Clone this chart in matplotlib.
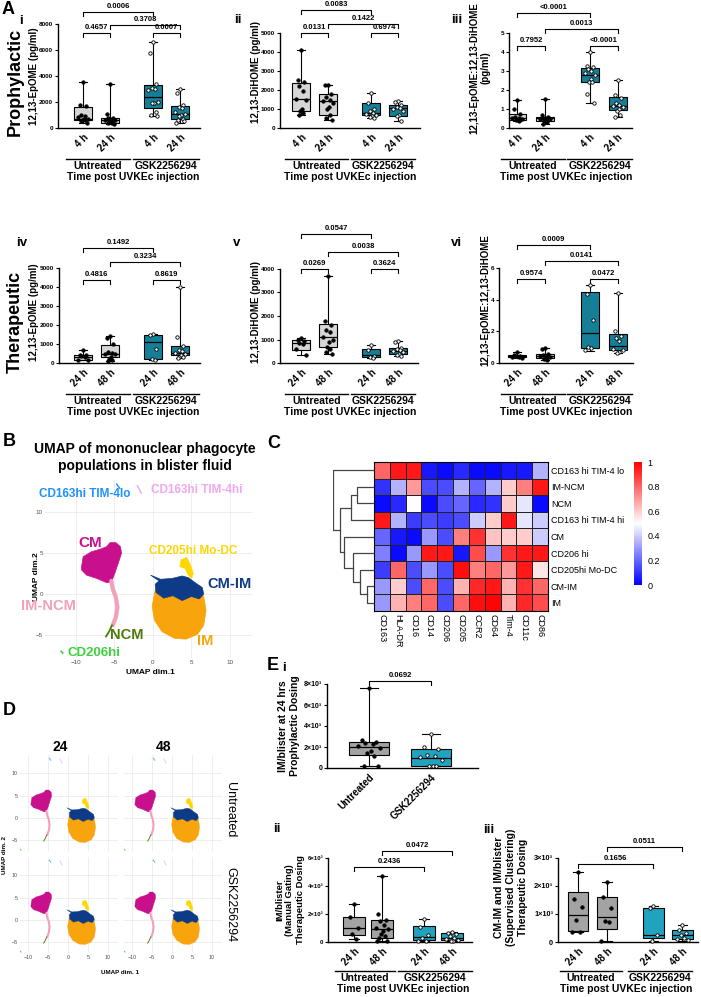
import numpy as np
import matplotlib
matplotlib.use("Agg")
import matplotlib.pyplot as plt
from matplotlib.colors import LinearSegmentedColormap
from matplotlib.lines import Line2D

W, H = 701, 997
plt.rcParams['font.family'] = ['Liberation Sans', 'DejaVu Sans']

# ---------------- data ----------------
times_pro = ['4 h', '24 h', '4 h', '24 h']
times_ther = ['24 h', '48 h', '24 h', '48 h']

# box stats: (min, q1, median, q3, max)
epome_pro_stats = [(400, 600, 700, 1600, 3500), (300, 400, 600, 800, 3400),
                   (900, 1500, 2400, 3300, 6600), (400, 700, 1100, 1700, 3000)]
epome_pro_pts = [[3500, 1800, 1700, 1000, 950, 850, 700, 700, 650, 600, 500, 400],
                 [3400, 1100, 800, 750, 700, 650, 600, 500, 450, 400, 350, 300],
                 [6600, 5800, 3400, 3100, 3000, 2900, 2000, 1900, 1900, 1200, 1000, 900],
                 [3000, 2700, 1800, 1600, 1500, 1200, 1100, 1000, 900, 700, 600, 500, 400]]

dihome_pro_stats = [(700, 900, 1550, 2380, 4100), (400, 700, 1400, 1780, 2250),
                    (550, 700, 800, 1300, 1850), (350, 650, 1050, 1200, 1400)]
dihome_pro_pts = [[4100, 2500, 2400, 2200, 1950, 1500, 1450, 1000, 900, 800, 700],
                  [2250, 2250, 1800, 1650, 1450, 1400, 1300, 1100, 1000, 700, 500, 400],
                  [1850, 1300, 1000, 900, 800, 750, 700, 650, 600, 550],
                  [1400, 1350, 1200, 1100, 1050, 1000, 900, 700, 650, 350]]

ratio_pro_stats = [(0.35, 0.42, 0.55, 0.75, 1.45), (0.2, 0.35, 0.5, 0.6, 1.55),
                   (1.3, 2.4, 2.8, 3.15, 4.0), (0.6, 0.95, 1.15, 1.65, 2.55)]
ratio_pro_pts = [[1.45, 1.0, 0.75, 0.6, 0.55, 0.5, 0.45, 0.42, 0.4, 0.35],
                 [1.55, 0.7, 0.6, 0.55, 0.5, 0.48, 0.45, 0.4, 0.35, 0.3, 0.2],
                 [4.0, 3.25, 3.2, 3.1, 3.0, 2.9, 2.8, 2.6, 2.4, 2.4, 1.8, 1.3],
                 [2.55, 1.75, 1.6, 1.3, 1.2, 1.15, 1.1, 1.0, 0.9, 0.7, 0.6]]

epome_ther_stats = [(150, 170, 300, 430, 700), (100, 300, 500, 950, 1400),
                    (150, 200, 1100, 1500, 1550), (250, 400, 550, 900, 4000)]
epome_ther_pts = [[700, 420, 400, 350, 300, 180, 150],
                  [1400, 1300, 1000, 600, 550, 500, 450, 300, 200, 150, 100],
                  [1550, 1500, 750, 200, 150],
                  [4000, 1350, 900, 700, 650, 550, 500, 400, 300, 300, 250]]

dihome_ther_stats = [(350, 560, 850, 980, 1080), (400, 700, 1100, 1650, 3700),
                     (200, 250, 350, 600, 780), (300, 380, 500, 650, 920)]
dihome_ther_pts = [[1080, 1000, 950, 850, 800, 600, 350],
                   [3700, 1800, 1600, 1400, 1300, 1100, 1000, 900, 700, 600, 450, 400],
                   [780, 550, 300, 250, 200],
                   [920, 900, 650, 600, 550, 500, 450, 400, 350, 300]]

ratio_ther_stats = [(0.3, 0.35, 0.42, 0.48, 0.72), (0.2, 0.3, 0.42, 0.55, 0.95),
                    (0.75, 0.95, 1.9, 4.5, 4.95), (0.65, 0.85, 1.1, 1.85, 4.4)]
ratio_ther_pts = [[0.72, 0.5, 0.45, 0.42, 0.38, 0.35, 0.3],
                  [0.95, 0.9, 0.6, 0.5, 0.45, 0.42, 0.38, 0.3, 0.25, 0.2],
                  [4.95, 4.35, 2.7, 1.0, 0.95, 0.8],
                  [4.4, 2.05, 1.7, 1.6, 1.4, 0.9, 0.85, 0.7, 0.65]]

im_pro_stats = [(150, 1200, 2000, 2450, 7600), (150, 200, 950, 1850, 3200)]
im_pro_pts = [[7600, 2700, 2500, 2400, 2300, 2100, 1900, 1600, 1400, 1100, 200, 150],
              [3200, 2000, 1800, 1200, 1100, 1000, 800, 200, 150, 150]]

im_ther_stats = [(250, 500, 1000, 1800, 2700), (50, 300, 900, 1600, 4700),
                 (50, 140, 360, 1140, 1640), (50, 140, 300, 640, 710)]
im_ther_pts = [[2700, 1800, 1000, 600, 250],
               [4700, 2000, 1600, 1500, 1200, 1000, 900, 800, 600, 400, 300, 100, 50],
               [1640, 1100, 500, 300, 100, 50],
               [710, 650, 600, 400, 300, 200, 150, 100, 50]]

cmim_ther_stats = [(360, 380, 950, 1800, 2500), (30, 480, 900, 1600, 2150),
                   (50, 150, 250, 1230, 1280), (50, 110, 250, 420, 620)]
cmim_ther_pts = [[2500, 1550, 1250, 800, 370, 360],
                 [2150, 1600, 1200, 750, 700, 30],
                 [1280, 1230, 250, 50],
                 [620, 420, 330, 250, 150, 100, 60]]

# heatmap
heat_rows = ['CD163 hi TIM-4 lo', 'IM-NCM', 'NCM', 'CD163 hi TIM-4 hi', 'CM', 'CD206 hi',
             'CD205hi Mo-DC', 'CM-IM', 'IM']
heat_cols = ['CD163', 'HLA-DR', 'CD16', 'CD14', 'CD206', 'CD205', 'CCR2', 'CD64', 'Tim-4', 'CD11c', 'CD86']
heat_vals = [
    [0.80, 0.95, 0.95, 0.05, 0.02, 0.08, 0.02, 0.02, 0.05, 0.05, 0.35],
    [0.10, 0.35, 0.70, 0.15, 0.15, 0.35, 0.20, 0.35, 0.60, 0.75, 0.95],
    [0.02, 0.08, 0.50, 0.02, 0.15, 0.20, 0.08, 0.10, 0.60, 0.45, 0.02],
    [0.95, 0.35, 0.12, 0.15, 0.12, 0.15, 0.40, 0.60, 0.95, 0.45, 0.40],
    [0.20, 0.05, 0.02, 0.30, 0.15, 0.75, 0.90, 0.62, 0.60, 0.60, 0.40],
    [0.25, 0.02, 0.30, 0.95, 0.95, 0.05, 0.85, 0.30, 0.90, 0.95, 0.95],
    [0.12, 0.80, 0.15, 0.30, 0.15, 0.97, 0.75, 0.80, 0.70, 0.95, 0.55],
    [0.30, 0.60, 0.15, 0.80, 0.15, 0.65, 0.92, 0.95, 0.65, 0.90, 0.80],
    [0.30, 0.65, 0.75, 0.80, 0.15, 0.80, 0.97, 0.99, 0.65, 0.92, 0.85]]
# row dendrogram merges (node a, node b, height); new nodes numbered from 9
dendro_merges = [(1, 2, 0.42), (9, 3, 0.56), (7, 8, 0.18), (6, 11, 0.33),
                 (5, 12, 0.52), (4, 13, 0.74), (10, 14, 0.82), (0, 15, 0.99)]

# UMAP cluster outlines (UMAP dim.1, UMAP dim.2)
im_u = [0.3, -0.1, 0.2, 1.2, 2.8, 4.3, 5.8, 6.6, 6.9, 6.6, 5.8, 3.5, 1.5]
im_v = [0.5, -1.5, -3.2, -4.6, -5.4, -5.5, -4.9, -3.8, -2.0, -0.3, 0.8, 1.2, 1.2]
cmim_u = [-0.3, 1.0, 2.5, 3.8, 4.6, 5.6, 6.4, 6.6, 6.0, 5.0, 3.8, 2.6, 1.4, 0.4, 0.3, 0.8]
cmim_v = [2.3, 1.8, 1.9, 2.2, 2.0, 1.3, 0.8, 0.0, -0.6, -0.3, -0.8, -0.2, -0.5, 0.2, 1.2, 1.6]
modc_u = [3.64, 4.37, 4.8, 5.24, 5.02, 4.6, 4.16, 3.5]
modc_v = [4.15, 4.47, 3.74, 2.52, 1.91, 2.3, 3.13, 3.33]
cm_u = [-9.26, -9.05, -7.96, -6.88, -6.0, -5.58, -4.8, -4.2, -4.07, -4.5, -4.94, -5.37, -6.0, -7.31, -8.6, -9.26]
cm_v = [3.33, 4.55, 5.16, 5.45, 5.77, 6.26, 6.26, 5.77, 4.96, 3.74, 2.52, 1.5, 1.38, 1.91, 2.3, 2.93]
imncm_u = [-5.4, -5.2, -4.8, -4.6, -4.8, -5.2]
imncm_v = [1.6, 0.6, -0.4, -1.6, -2.8, -3.8]
ncm_u = [-5.3, -5.7, -6.1]
ncm_v = [-3.8, -4.6, -5.2]
tim4lo_u, tim4lo_v = [-4.7, -4.3], [13.4, 12.9]
tim4hi_u, tim4hi_v = [-2.0, -1.5], [13.2, 12.3]
cd206_u, cd206_v = [-11.9, -11.7], [-7.0, -7.2]

umap_colors = {'IM': '#f7a40d', 'CM-IM': '#0d3b87', 'Mo-DC': '#ffd700', 'CM': '#c8108c',
               'IM-NCM': '#f4a0b8', 'NCM': '#4d7a0b', 'TIM4lo': '#1e90ff',
               'TIM4hi': '#f0a6f0', 'CD206hi': '#3dd13d'}

# ---------------- figure ----------------
fig = plt.figure(figsize=(W / 100, H / 100), dpi=100)


def add_ax(x0, y0, x1, y1):
    return fig.add_axes([x0 / W, 1 - y1 / H, (x1 - x0) / W, (y1 - y0) / H])


def ftext(x, y, s, **kw):
    kw.setdefault('ha', 'center')
    kw.setdefault('va', 'center')
    fig.text(x / W, 1 - y / H, s, **kw)


def fline(x0, x1, y, lw=1.0):
    fig.add_artist(Line2D([x0 / W, x1 / W], [1 - y / H, 1 - y / H], color='black', lw=lw))


spread = [0, -0.6, 0.6, -0.3, 0.3, -0.9, 0.9, 0.15, -0.15, 0.45, -0.45, 0.75, -0.75]


def box_panel(bbox, p1, step, pos, width, stats, pts, fills, hollow, ymax, yticks,
              yticklabels, xlabels, brackets, yfs=4.6, xfs=7):
    x0, y0, x1, y1 = bbox
    ax = add_ax(x0, y0, x1, y1)
    bstats = [dict(whislo=s[0], q1=s[1], med=s[2], q3=s[3], whishi=s[4], fliers=[]) for s in stats]
    art = ax.bxp(bstats, positions=pos, widths=width, capwidths=width * 0.45, patch_artist=True,
                 showfliers=False,
                 boxprops=dict(edgecolor='black', linewidth=0.8),
                 whiskerprops=dict(color='black', linewidth=0.8),
                 capprops=dict(color='black', linewidth=0.8),
                 medianprops=dict(color='black', linewidth=0.9))
    for patch, c in zip(art['boxes'], fills):
        patch.set_facecolor(c)
    for p, vals, h in zip(pos, pts, hollow):
        offs = np.array([spread[k % len(spread)] for k in range(len(vals))]) * width * 0.3
        ax.scatter(p + offs, vals, s=6, marker='o', facecolor='white' if h else 'black',
                   edgecolor='black', linewidth=0.6, zorder=4, clip_on=False)
    ax.set_xlim(1 + (x0 - p1) / step, 1 + (x1 - p1) / step)
    ax.set_ylim(0, ymax)
    ax.set_yticks(yticks)
    ax.set_yticklabels(yticklabels, fontsize=yfs, fontweight='bold')
    ax.set_xticks(pos)
    ax.set_xticklabels(xlabels, rotation=45, ha='right', rotation_mode='anchor',
                       fontsize=xfs, fontweight='bold')
    ax.tick_params(axis='y', length=2.5, width=0.8, pad=1)
    ax.tick_params(axis='x', length=0, pad=3)
    for sp in ['top', 'right']:
        ax.spines[sp].set_visible(False)
    for sp in ['left', 'bottom']:
        ax.spines[sp].set_linewidth(1.0)
    hpx = y1 - y0
    drop = 4.0 / hpx
    tr = ax.get_xaxis_transform()
    for i, j, yf, lab in brackets:
        ax.plot([pos[i], pos[i], pos[j], pos[j]], [yf - drop, yf, yf, yf - drop], color='black',
                lw=0.8, transform=tr, clip_on=False)
        ax.text((pos[i] + pos[j]) / 2, yf + 2.0 / hpx, lab, transform=tr, ha='center',
                va='bottom', fontsize=5.5, fontweight='bold')
    return ax


def group_labels(u_span, g_span, yline, time_x):
    fline(u_span[0], u_span[1], yline)
    fline(g_span[0], g_span[1], yline)
    ftext(sum(u_span) / 2, yline + 7, 'Untreated', fontsize=7.5, fontweight='bold')
    ftext(sum(g_span) / 2, yline + 7, 'GSK2256294', fontsize=7.5, fontweight='bold')
    ftext(time_x, yline + 18, 'Time post UVKEc injection', fontsize=7.5, fontweight='bold')


grey_a, teal_a = '#d6d6d6', '#167f98'
grey_e, teal_e = '#a3a3a3', '#21a3c0'
fills4 = [grey_a, grey_a, teal_a, teal_a]
hollow4 = [False, False, True, True]
pos4 = [1, 2, 3.6, 4.6]

# ---------------- panel A ----------------
ftext(2, 10, 'A', fontsize=13, fontweight='bold', ha='left')
ftext(15, 82, 'Prophylactic', fontsize=13, fontweight='bold', rotation=90)
ftext(15, 322, 'Therapeutic', fontsize=13, fontweight='bold', rotation=90)
for x, y, s in [(21, 21, 'i'), (238, 20, 'ii'), (457, 20, 'iii'),
                (22, 243, 'iv'), (237, 243, 'v'), (457, 243, 'vi')]:
    ftext(x, y, s, fontsize=9.5, fontweight='bold')

box_panel((58, 24, 200, 128), 83, 27, pos4, 0.67, epome_pro_stats, epome_pro_pts, fills4, hollow4,
          8000, [0, 2000, 4000, 6000, 8000], ['0', '2000', '4000', '6000', '8000'], times_pro,
          [(0, 1, 0.913, '0.4657'), (2, 3, 0.913, '0.0007'), (1, 3, 0.99, '0.3708'),
           (0, 2, 1.115, '0.0006')])
ftext(34, 76, '12,13-EpOME (pg/ml)', fontsize=7, fontweight='bold', rotation=90)
group_labels((66, 130), (133, 199), 159, 133)

box_panel((280, 33, 420, 128), 301, 27, pos4, 0.67, dihome_pro_stats, dihome_pro_pts, fills4,
          hollow4, 5000, [0, 1000, 2000, 3000, 4000, 5000],
          ['0', '1000', '2000', '3000', '4000', '5000'], times_pro,
          [(0, 1, 1.0, '0.0131'), (2, 3, 1.0, '0.6974'), (1, 3, 1.095, '0.1422'),
           (0, 2, 1.242, '0.0083')])
ftext(256, 72, '12,13-DiHOME (pg/ml)', fontsize=7, fontweight='bold', rotation=90)
group_labels((285, 348), (351, 415), 159, 350)

box_panel((509, 33, 632, 128), 517, 28, pos4, 0.64, ratio_pro_stats, ratio_pro_pts, fills4,
          hollow4, 5, [0, 1, 2, 3, 4, 5], ['0', '1', '2', '3', '4', '5'], times_pro,
          [(0, 1, 0.863, '0.7952'), (2, 3, 0.863, '<0.0001'), (1, 3, 1.042, '0.0013'),
           (0, 2, 1.21, '<0.0001')])
ftext(480, 68, '12,13-EpOME:12,13-DiHOME\n(pg/ml)', fontsize=7, fontweight='bold', rotation=90,
      linespacing=1.2)
group_labels((501, 565), (567, 632), 159, 566)

box_panel((59, 268, 200, 363), 83, 27, pos4, 0.67, epome_ther_stats, epome_ther_pts, fills4,
          hollow4, 5000, [0, 1000, 2000, 3000, 4000, 5000],
          ['0', '1000', '2000', '3000', '4000', '5000'], times_ther,
          [(0, 1, 0.874, '0.4816'), (2, 3, 0.874, '0.8619'), (1, 3, 1.063, '0.3234'),
           (0, 2, 1.21, '0.1492')])
ftext(34, 312, '12,13-EpOME (pg/ml)', fontsize=7, fontweight='bold', rotation=90)
group_labels((66, 130), (133, 199), 394, 133)

box_panel((280, 269, 418, 363), 301, 27, pos4, 0.67, dihome_ther_stats, dihome_ther_pts, fills4,
          hollow4, 4000, [0, 1000, 2000, 3000, 4000], ['0', '1000', '2000', '3000', '4000'],
          times_ther,
          [(0, 1, 1.0, '0.0269'), (2, 3, 1.0, '0.3624'), (1, 3, 1.18, '0.0038'),
           (0, 2, 1.37, '0.0547')])
ftext(256, 312, '12,13-DiHOME (pg/ml)', fontsize=7, fontweight='bold', rotation=90)
group_labels((285, 348), (351, 415), 394, 350)

box_panel((499, 268, 633, 363), 517, 28, pos4, 0.64, ratio_ther_stats, ratio_ther_pts, fills4,
          hollow4, 6, [0, 2, 4, 6], ['0', '2', '4', '6'], times_ther,
          [(0, 1, 0.884, '0.9574'), (2, 3, 0.884, '0.0472'), (1, 3, 1.074, '0.0141'),
           (0, 2, 1.242, '0.0009')])
ftext(485, 300, '12,13-EpOME:12,13-DiHOME', fontsize=7, fontweight='bold', rotation=90)
group_labels((501, 565), (567, 632), 394, 566)


# ---------------- UMAP helpers ----------------
def draw_clusters(ax, k=1.0):
    c = umap_colors
    ax.fill(im_u, im_v, color=c['IM'], lw=0.5 * k)
    ax.fill(cmim_u, cmim_v, color=c['CM-IM'], lw=0.5 * k)
    ax.fill(modc_u, modc_v, color=c['Mo-DC'], lw=0.5 * k)
    ax.fill(cm_u, cm_v, color=c['CM'], lw=0.5 * k)
    ax.plot(imncm_u, imncm_v, color=c['IM-NCM'], lw=3.0 * k, solid_capstyle='round')
    ax.plot(ncm_u, ncm_v, color=c['NCM'], lw=1.3 * k, solid_capstyle='round')
    ax.plot(tim4lo_u, tim4lo_v, color=c['TIM4lo'], lw=1.0 * k)
    ax.plot(tim4hi_u, tim4hi_v, color=c['TIM4hi'], lw=1.0 * k)
    ax.plot(cd206_u, cd206_v, color=c['CD206hi'], lw=1.2 * k)


def umap_axes(ax, xl, yl, fs, show_x=True, show_y=True):
    ax.set_xlim(*xl)
    ax.set_ylim(*yl)
    ax.set_xticks([-10, -5, 0, 5, 10])
    ax.set_yticks([-5, 0, 5, 10])
    ax.grid(True, color='#ebebeb', lw=0.6)
    ax.set_axisbelow(True)
    for sp in ax.spines.values():
        sp.set_visible(False)
    ax.tick_params(length=0, labelsize=fs, labelcolor='#4d4d4d', pad=1.5,
                   labelbottom=show_x, labelleft=show_y)


# ---------------- panel B ----------------
ftext(3, 442, 'B', fontsize=13, fontweight='bold', ha='left')
ftext(145, 449, 'UMAP of mononuclear phagocyte', fontsize=10, fontweight='bold')
ftext(145, 466, 'populations in blister fluid', fontsize=10, fontweight='bold')
axb = add_ax(45, 480, 252, 658)
draw_clusters(axb, 1.0)
umap_axes(axb, (-14.0, 12.86), (-7.8, 13.9), 4.5)
ftext(36, 577, 'UMAP dim.2', fontsize=6, fontweight='bold', rotation=90)
ftext(150, 673, 'UMAP dim.1', fontsize=6, fontweight='bold')
for x, y, s, key, fs in [(85, 494, 'CD163hi TIM-4lo', 'TIM4lo', 8.5),
                         (197, 490, 'CD163hi TIM-4hi', 'TIM4hi', 8.5),
                         (90, 543, 'CM', 'CM', 11),
                         (193, 551, 'CD205hi Mo-DC', 'Mo-DC', 8.5),
                         (229, 584, 'CM-IM', 'CM-IM', 10.5),
                         (48, 606, 'IM-NCM', 'IM-NCM', 10.5),
                         (127, 635, 'NCM', 'NCM', 10.5),
                         (205, 641, 'IM', 'IM', 10.5),
                         (94, 653, 'CD206hi', 'CD206hi', 9.5)]:
    ftext(x, y, s, fontsize=fs, fontweight='bold', color=umap_colors[key])

# ---------------- panel C ----------------
ftext(267, 443, 'C', fontsize=13, fontweight='bold', ha='left')
axh = add_ax(374, 462, 548, 611)
cmap = LinearSegmentedColormap.from_list('bwr2', ['#0000ff', '#ffffff', '#ff0000'])
mesh = axh.pcolormesh(np.array(heat_vals), cmap=cmap, vmin=0, vmax=1, edgecolors='#222222',
                      linewidth=0.6)
axh.set_xlim(0, len(heat_cols))
axh.set_ylim(len(heat_rows), 0)
axh.set_xticks(np.arange(len(heat_cols)) + 0.5)
axh.set_xticklabels(heat_cols, rotation=270, fontsize=6.5, va='top', ha='center')
axh.yaxis.tick_right()
axh.set_yticks(np.arange(len(heat_rows)) + 0.5)
axh.set_yticklabels(heat_rows, fontsize=6.5)
axh.tick_params(length=0, pad=2)
for sp in axh.spines.values():
    sp.set_linewidth(0.8)

cax = add_ax(634, 462, 642, 585)
cb = fig.colorbar(mesh, cax=cax, ticks=[0, 0.2, 0.4, 0.6, 0.8, 1])
cb.ax.set_yticklabels(['0', '0.2', '0.4', '0.6', '0.8', '1'])
cb.outline.set_visible(False)
cax.tick_params(length=0, labelsize=6.5, pad=4)

axd = add_ax(333, 462, 374, 611)
axd.set_xlim(1.0, 0.0)
axd.set_ylim(len(heat_rows), 0)
axd.axis('off')
node_y = {i: i + 0.5 for i in range(len(heat_rows))}
node_h = {i: 0.0 for i in range(len(heat_rows))}
nid = len(heat_rows)
for a, b, h in dendro_merges:
    axd.plot([node_h[a], h, h, node_h[b]], [node_y[a], node_y[a], node_y[b], node_y[b]],
             color='#444444', lw=0.9)
    node_y[nid] = (node_y[a] + node_y[b]) / 2
    node_h[nid] = h
    nid += 1

# ---------------- panel D ----------------
ftext(3, 710, 'D', fontsize=13, fontweight='bold', ha='left')
ftext(60, 747, '24', fontsize=10, fontweight='bold')
ftext(163, 747, '48', fontsize=10, fontweight='bold')
ftext(230, 810, 'Untreated', fontsize=9, rotation=270)
ftext(230, 905, 'GSK2256294', fontsize=9, rotation=270)
d_boxes = [((20, 755, 118, 851), False, True), ((124, 755, 222, 851), False, False),
           ((20, 857, 118, 953), True, True), ((124, 857, 222, 953), True, False)]
for bb, sx, sy in d_boxes:
    axx = add_ax(*bb)
    draw_clusters(axx, 0.5)
    umap_axes(axx, (-12.0, 12.5), (-7.4, 14.1), 3.8, show_x=sx, show_y=sy)
ftext(5, 855, 'UMAP dim. 2', fontsize=4.5, fontweight='bold', rotation=90)
ftext(120, 972, 'UMAP dim. 1', fontsize=4.5, fontweight='bold')

# ---------------- panel E ----------------
ftext(267, 665, 'E', fontsize=13, fontweight='bold', ha='left')
ftext(284, 668, 'i', fontsize=9.5, fontweight='bold')
ftext(277, 829, 'ii', fontsize=9.5, fontweight='bold')
ftext(489, 830, 'iii', fontsize=9.5, fontweight='bold')

box_panel((327, 684, 478, 768), 369, 62, [1, 2], 0.65, im_pro_stats, im_pro_pts,
          [grey_e, teal_e], [False, True], 8000, [0, 2000, 4000, 6000, 8000],
          ['0', '2×10³', '4×10³', '6×10³', '8×10³'], ['Untreated', 'GSK2256294'],
          [(0, 1, 1.036, '0.0692')], yfs=5.0)
ftext(289, 726, 'IM/blister at 24 hrs\nProphylactic Dosing', fontsize=7.5, fontweight='bold',
      rotation=90, linespacing=1.25)

fills_e = [grey_e, grey_e, teal_e, teal_e]
box_panel((328, 858, 472, 942), 354, 28, [1, 2, 3.5, 4.5], 0.78, im_ther_stats, im_ther_pts,
          fills_e, hollow4, 6000, [0, 2000, 4000, 6000], ['0', '2×10³', '4×10³', '6×10³'],
          times_ther, [(1, 3, 1.083, '0.0472'), (0, 2, 0.893, '0.2436')], yfs=4.3)
ftext(290, 900, 'IM/blister\n(Manual Gating)\nTherapeutic Dosing', fontsize=6.8,
      fontweight='bold', rotation=90, linespacing=1.2)
group_labels((335, 395), (398, 472), 971, 403)

box_panel((558, 858, 698, 942), 578, 29, pos4, 0.72, cmim_ther_stats, cmim_ther_pts, fills_e,
          hollow4, 3000, [0, 1000, 2000, 3000], ['0', '1×10³', '2×10³', '3×10³'], times_ther,
          [(1, 3, 1.13, '0.0511'), (0, 2, 0.93, '0.1656')], yfs=5.3)
ftext(511, 887, 'CM-IM and IM/blister\n(Supervised Clustering)\nTherapeutic Dosing', fontsize=7.5,
      fontweight='bold', rotation=90, linespacing=1.25)
group_labels((560, 622), (628, 692), 971, 626)

fig.savefig('out.png', dpi=100)
